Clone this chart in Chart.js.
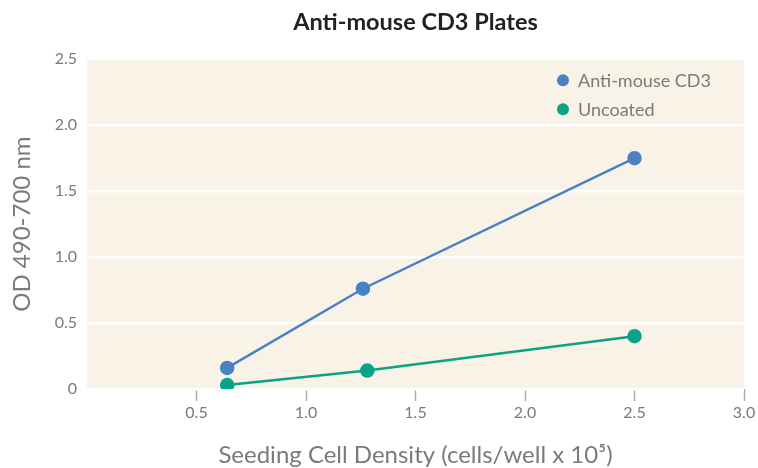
<!DOCTYPE html>
<html lang="en">
<head>
    <meta charset="UTF-8">
    <title>Anti-mouse CD3 Plates</title>
    <style>
        html, body { margin: 0; padding: 0; background: #fff; }
        #wrap { width: 758px; height: 468px; }
    </style>
</head>
<body>
    <div id="wrap">
        <canvas id="myChart"></canvas>
    </div>

    <script src="https://cdn.jsdelivr.net/npm/chart.js"></script>
    <script>
        // values
        const seriesNames = ['Anti-mouse CD3', 'Uncoated'];
        const cd3X = [0.64, 1.26, 2.5];
        const cd3Y = [0.16, 0.76, 1.75];
        const uncoatedX = [0.64, 1.28, 2.5];
        const uncoatedY = [0.03, 0.14, 0.40];
        const yTicks = [0, 0.5, 1.0, 1.5, 2.0, 2.5];
        const xTicks = [0.5, 1.0, 1.5, 2.0, 2.5, 3.0];

        const toPoints = (xs, ys) => xs.map((x, i) => ({ x: x, y: ys[i] }));

        const FONT = 'Lato, "Open Sans", sans-serif';
        const grey = '#7a7a7a';

        // beige plot background
        const plotBg = {
            id: 'plotBg',
            beforeDraw(chart) {
                const { ctx, chartArea: a } = chart;
                ctx.save();
                ctx.fillStyle = '#f9f2e7';
                ctx.fillRect(a.left, a.top, a.right - a.left, a.bottom - a.top);
                ctx.restore();
            }
        };

        // legend inside the plot, top right, one row per series
        const insideLegend = {
            id: 'insideLegend',
            afterDraw(chart) {
                const { ctx, chartArea: a } = chart;
                ctx.save();
                ctx.font = '18px ' + FONT;
                ctx.textBaseline = 'middle';
                chart.data.datasets.forEach((ds, i) => {
                    const y = a.top + 21 + i * 29;
                    const x = a.right - 181;
                    ctx.fillStyle = ds.borderColor;
                    ctx.beginPath();
                    ctx.arc(x, y, 6, 0, Math.PI * 2);
                    ctx.fill();
                    ctx.fillStyle = grey;
                    ctx.fillText(ds.label, x + 15, y + 1);
                });
                ctx.restore();
            }
        };

        const ctx = document.getElementById('myChart');

        new Chart(ctx, {
            type: 'line',
            data: {
                datasets: [{
                    label: seriesNames[0],
                    data: toPoints(cd3X, cd3Y),
                    borderColor: '#4a80c4',
                    backgroundColor: '#4a80c4',
                    borderWidth: 2.5,
                    pointRadius: 6,
                    pointHoverRadius: 6
                }, {
                    label: seriesNames[1],
                    data: toPoints(uncoatedX, uncoatedY),
                    borderColor: '#0ba387',
                    backgroundColor: '#0ba387',
                    borderWidth: 2.5,
                    pointRadius: 6,
                    pointHoverRadius: 6
                }]
            },
            options: {
                responsive: true,
                maintainAspectRatio: false,
                animation: false,
                layout: { padding: { left: 0, right: 14, top: 0, bottom: 0 } },
                plugins: {
                    title: {
                        display: true,
                        fullSize: false,
                        text: 'Anti-mouse CD3 Plates',
                        color: '#222',
                        font: { family: FONT, size: 23.5, weight: 'bold' },
                        padding: { top: 8, bottom: 23 }
                    },
                    legend: { display: false },
                    tooltip: { enabled: false }
                },
                scales: {
                    x: {
                        type: 'linear',
                        min: 0,
                        max: 3,
                        afterBuildTicks(axis) {
                            axis.ticks = xTicks.map(v => ({ value: v }));
                        },
                        ticks: {
                            color: grey,
                            font: { family: FONT, size: 16 },
                            padding: 2,
                            callback: v => v.toFixed(1)
                        },
                        grid: {
                            drawOnChartArea: false,
                            color: '#aaa',
                            tickLength: 12,
                            tickWidth: 1.5
                        },
                        border: { display: false },
                        title: {
                            display: true,
                            text: 'Seeding Cell Density (cells/well x 10\u2075)',
                            color: grey,
                            font: { family: FONT, size: 24 },
                            padding: { top: 8, bottom: -2 }
                        },
                        afterFit(axis) { axis.height = 79; }
                    },
                    y: {
                        min: 0,
                        max: 2.5,
                        afterBuildTicks(axis) {
                            axis.ticks = yTicks.map(v => ({ value: v }));
                        },
                        ticks: {
                            color: grey,
                            font: { family: FONT, size: 16 },
                            padding: 10,
                            callback: v => v === 0 ? '0' : v.toFixed(1)
                        },
                        grid: {
                            color: '#ffffff',
                            lineWidth: 2.5,
                            drawTicks: false
                        },
                        border: { display: false },
                        title: {
                            display: true,
                            text: 'OD 490-700 nm',
                            color: grey,
                            font: { family: FONT, size: 24 },
                            padding: { top: 8, bottom: 0 }
                        },
                        afterFit(axis) { axis.width = 87; }
                    }
                }
            },
            plugins: [plotBg, insideLegend]
        });
    </script>
</body>
</html>
